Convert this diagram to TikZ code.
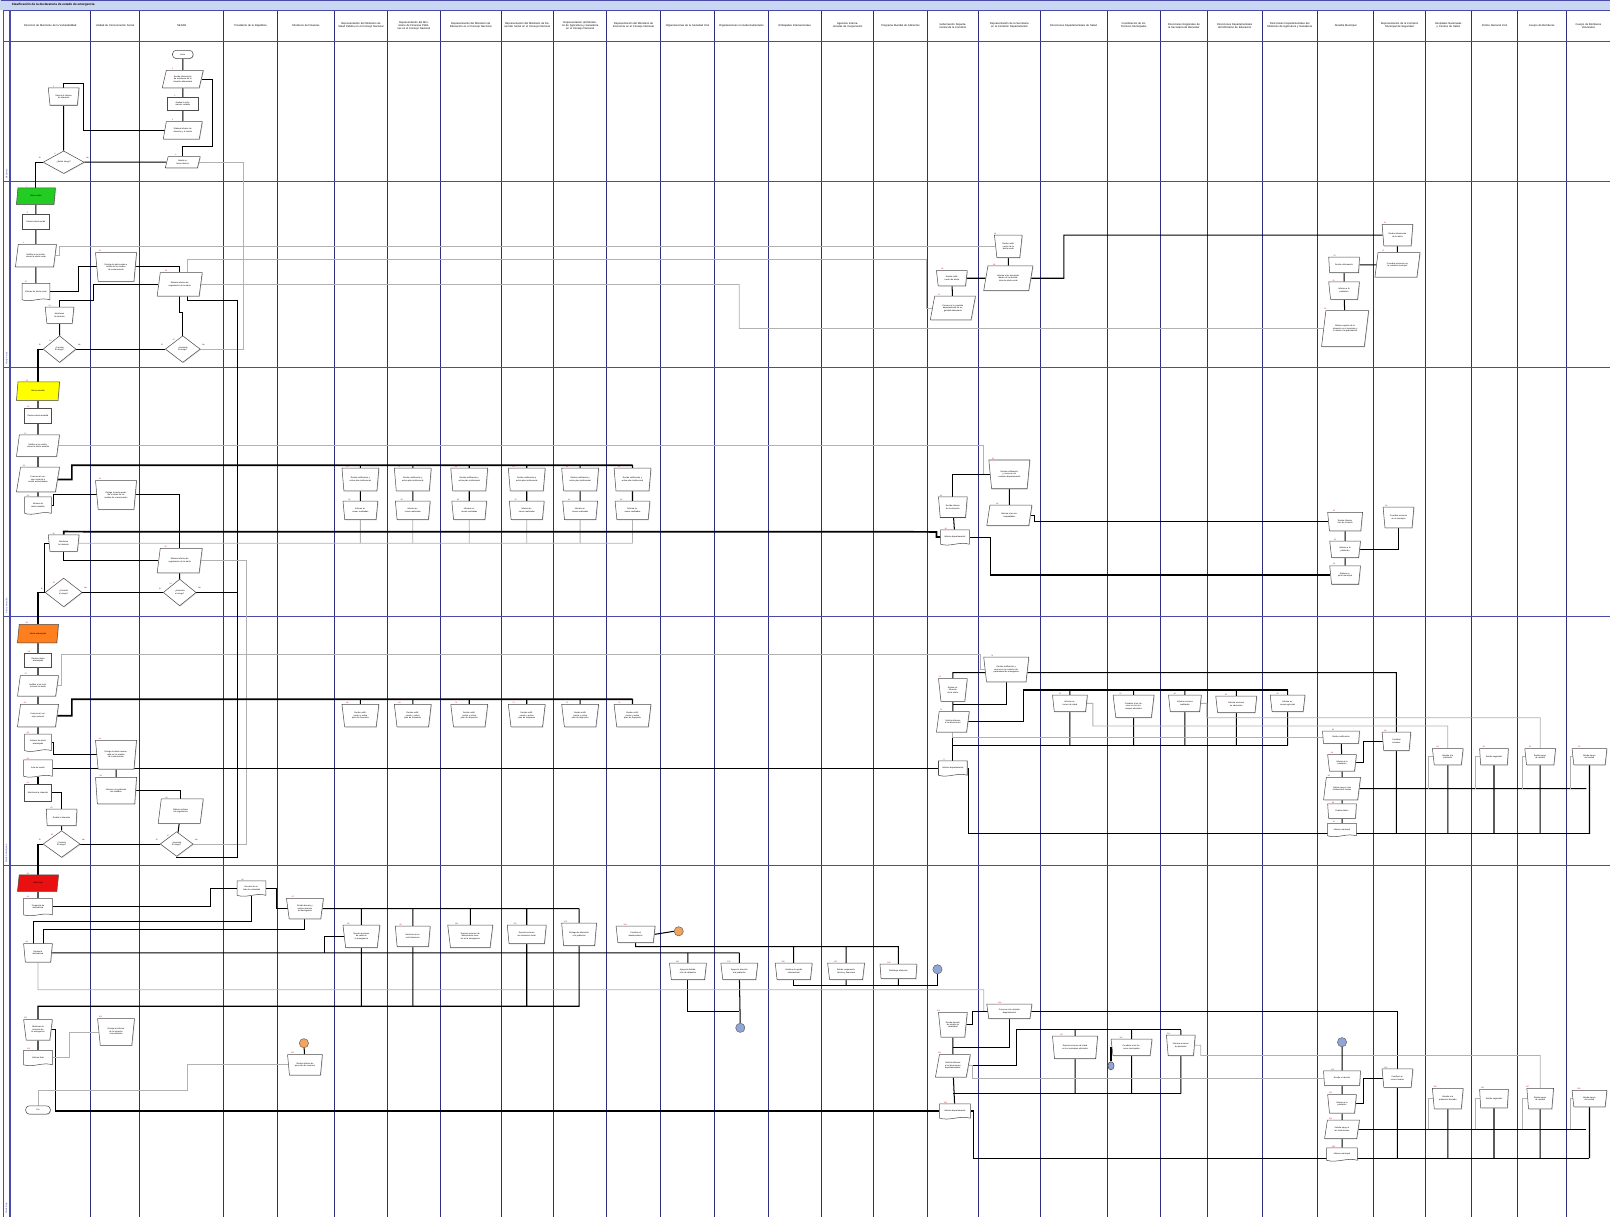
\documentclass[tikz,border=0pt]{standalone}
\usepackage{fontspec}
\setmainfont{Liberation Sans}
\usetikzlibrary{shapes.geometric,shadows,calc}
\pgfdeclarelayer{gridl}\pgfdeclarelayer{bg}
\pgfsetlayers{gridl,bg,main}
\newcounter{act}
\definecolor{gridc}{HTML}{2E2E7E}
\definecolor{rowc}{HTML}{4A4AA8}
\definecolor{ttl}{HTML}{C9D7F2}
\definecolor{sg}{HTML}{22CC22}
\definecolor{sy}{HTML}{FFFF00}
\definecolor{so}{HTML}{FF7F1E}
\definecolor{sr}{HTML}{E81010}
\definecolor{cio}{HTML}{F2A35E}
\definecolor{cib}{HTML}{8FA6D6}
\tikzset{
 shb/.style={draw=black!70, fill=white, line width=0.5pt, inner sep=0.4pt, font=\fontsize{2}{2.4}\selectfont, align=center},
 sh/.style={shb, drop shadow={shadow xshift=0.7pt, shadow yshift=-0.7pt, fill=black!30}},
 num/.style={label={[font=\fontsize{1.8}{2}\selectfont, text=red!80!black, inner sep=0.3pt]135:\stepcounter{act}\theact}},
 trz/.style 2 args={sh, num, trapezium, trapezium stretches=true, shape border rotate=180, trapezium left angle=76, trapezium right angle=76, minimum width=#1pt, minimum height=#2pt},
 prl/.style 2 args={sh, num, trapezium, trapezium stretches=true, trapezium left angle=68, trapezium right angle=112, minimum width=#1pt, minimum height=#2pt},
 rct/.style 2 args={sh, num, rectangle, minimum width=#1pt, minimum height=#2pt},
 dia/.style 2 args={sh, num, diamond, minimum width=#1pt, minimum height=#2pt},
 docn/.style 2 args={shb, num, rectangle, draw=none, fill=none, minimum width=#1pt, minimum height=#2pt},
 docl/.style={draw=black!70, fill=white, line width=0.5pt},
 term/.style 2 args={sh, rectangle, rounded corners=3.5pt, minimum width=#1pt, minimum height=#2pt},
 circ/.style={shb, circle, minimum size=9pt, fill=#1, draw=black!60},
 hdr/.style={font=\fontsize{2.6}{3.1}\selectfont, align=center, inner sep=0pt},
 yn/.style={font=\fontsize{1.8}{2}\selectfont, inner sep=0pt},
 cl/.style={line width=1pt, black},
 ck/.style={line width=1.7pt, black},
 cg/.style={line width=0.8pt, black!30},
}
\newcommand\Tz[7][]{\pgfmathsetmacro\tw{#5*0.58}\node[trz={#5}{#6},text width=\tw pt,#1] (#2) at (#3,#4) {#7};}
\newcommand\Pz[7][]{\pgfmathsetmacro\tw{#5*0.56}\node[prl={#5}{#6},text width=\tw pt,#1] (#2) at (#3,#4) {#7};}
\newcommand\Rz[7][]{\pgfmathsetmacro\tw{#5*0.8}\node[rct={#5}{#6},text width=\tw pt,#1] (#2) at (#3,#4) {#7};}
\newcommand\Dz[7][]{\pgfmathsetmacro\tw{#5*0.42}\node[dia={#5}{#6},text width=\tw pt,#1] (#2) at (#3,#4) {#7};}
\newcommand\Dc[7][]{%
 \pgfmathsetmacro\xa{#3-#5/2}\pgfmathsetmacro\xb{#3+#5/2}%
 \pgfmathsetmacro\ya{#4-#6/2}\pgfmathsetmacro\yb{#4+#6/2}\pgfmathsetmacro\cw{#5/3}%
 \filldraw[docl] (\xa,\yb) -- (\xa,\ya) -- (\xb,\ya) -- (\xb,\yb) .. controls +(-\cw,-3) and +(\cw,3) .. (\xa,\yb) -- cycle;
 \pgfmathsetmacro\tw{#5*0.82}\node[docn={#5}{#6},text width=\tw pt,#1] (#2) at (#3,#4) {#7};}
\newcommand\Cz[4]{\node[circ=#4] (#1) at (#2,#3) {};}
\newcommand\yn[1]{\node[yn] at ($(#1.west)+(-3,-4)$) {Sí};\node[yn] at ($(#1.east)+(3,-4)$) {No};}

\begin{document}
\begin{tikzpicture}[x=1pt,y=-1pt]
\useasboundingbox (0,0) rectangle (1568,1185);

% ---------- frame, title, header ----------
\begin{pgfonlayer}{gridl}
\fill[white] (0,0) rectangle (1568,1185);
\fill[ttl] (0,0) rectangle (1568,10);
\foreach \cx in {88,136,218,270,326,377,429,488,539,591,643,696,748,800,851,903,953,1013,1078,1130,1176,1229,1283,1338,1388,1433,1478,1525}
 {\draw[gridc, line width=0.7pt] (\cx,10) -- (\cx,1185);}
\foreach \ry in {10,40,177,358,600,843}
 {\draw[rowc, line width=1.1pt] (3,\ry) -- (1568,\ry);}
\draw[rowc, line width=0.5pt] (0.5,0.5) -- (1568,0.5);
\draw[rowc, line width=0.6pt] (3,10) -- (3,1185);
\draw[rowc, line width=1.6pt] (9.5,10) -- (9.5,1185);
\end{pgfonlayer}
\node[anchor=west, font=\fontsize{3}{3.5}\selectfont\bfseries] (title) at (8,5) {Clasificación de la declaratoria de estado de emergencia};
\foreach \ca/\cb/\ct in {
10/88/{Dirección de Monitoreo de la Vulnerabilidad},
88/136/{Unidad de Comunicación Social},
136/218/{SESAN},
218/270/{Presidente de la República},
270/326/{Ministerio de Finanzas},
326/377/{Representación del Ministerio de Salud Pública en el Consejo Nacional},
377/429/{Representación del Ministerio de Finanzas Públicas en el Consejo Nacional},
429/488/{Representación del Ministerio de Educación en el Consejo Nacional},
488/539/{Representación del Ministerio de Desarrollo Social en el Consejo Nacional},
539/591/{Representación del Ministerio de Agricultura y Ganadería en el Consejo Nacional},
591/643/{Representación del Ministerio de Economía en el Consejo Nacional},
643/696/{Organizaciones de la Sociedad Civil},
696/748/{Organizaciones no Gubernamentales},
748/800/{Embajadas Internacionales},
800/851/{Agencias Internacionales de Cooperación},
851/903/{Programa Mundial de Alimentos},
903/953/{Gobernación Departamental de la Comisión},
953/1013/{Representación de la Secretaría en la Comisión Departamental},
1013/1078/{Direcciones Departamentales de Salud},
1078/1130/{Coordinación de los Técnicos Municipales},
1130/1176/{Direcciones Regionales de la Secretaría de Bienestar},
1176/1229/{Direcciones Departamentales del Ministerio de Educación},
1229/1283/{Direcciones Departamentales del Ministerio de Agricultura y Ganadería},
1283/1338/{Alcaldía Municipal},
1338/1388/{Representación de la Comisión Municipal de Seguridad},
1388/1433/{Hospitales Nacionales y Centros de Salud},
1433/1478/{Policía Nacional Civil},
1478/1525/{Cuerpo de Bomberos},
1527/1567/{Cuerpo de Bomberos Voluntarios}}
{\pgfmathsetmacro\hw{\cb-\ca-6}\pgfmathsetmacro\hx{(\ca+\cb)/2}\node[hdr,text width=\hw pt] at (\hx,25) {\ct};}
\foreach \ly/\lt in {175/Monitoreo, 356/Alerta Verde, 598/Alerta Amarilla, 841/Alerta Anaranjada, 1183/Alerta Roja}
 {\node[rotate=90, anchor=west, font=\fontsize{2.2}{2.5}\selectfont, text=rowc, inner sep=0.5pt] at (6.3,\ly) {\lt};}

% ---------- ROW 1 ----------
\node[term={20}{8}] (r1s) at (178,53) {Inicio};
\Pz{r1p1}{178}{77}{40}{17}{Recibe información de monitoreo de la situación alimentaria}
\Rz{r1r1}{178}{101}{30}{13}{Analiza la información recibida}
\Pz{r1p2}{178}{127}{38}{17}{Elabora informe de situación y lo remite}
\Pz{r1p3}{178}{158}{34}{11}{Remite informe técnico}
\Tz{r1t1}{62}{94}{30}{17}{Revisa el informe de situación}
\Dz{r1d1}{62}{158}{40}{22}{¿Existe riesgo?}
\yn{r1d1}

% ---------- ROW 2 ----------
\Pz[fill=sg]{r2g}{35}{191}{38}{16}{Alerta verde}
\Rz{r2r1}{35}{216}{26}{14}{Declara alerta verde}
\Pz{r2p1}{35}{249}{40}{22}{Notifica a las instituciones la alerta verde}
\Dc{r2doc}{35}{284}{27}{16}{Informe de alerta verde}
\Tz{r2t1}{58}{307}{28}{16}{Monitorea la situación}
\Dz{r2d1}{58}{340}{32}{26}{¿Persiste el riesgo?}
\yn{r2d1}
\Tz{r2t2}{113}{260}{40}{28}{Divulga la alerta verde a través de los medios de comunicación}
\Pz{r2p2}{175}{277}{44}{23}{Elabora informe de seguimiento de la alerta}
\Dz{r2d2}{178}{340}{34}{26}{¿Aumenta el riesgo?}
\yn{r2d2}
\Tz{r2t3}{927}{271}{30}{15}{Recibe notificación de alerta}
\Pz{r2p3}{928}{300}{44}{23}{Convoca a la comisión departamental de seguridad alimentaria}
\Tz{r2t4}{982}{240}{27}{22}{Recibe notificación de la alerta verde}
\Pz{r2p4}{982}{271}{48}{24}{Informa a las municipalidades de la declaratoria de alerta verde}
\Tz{r2t5}{1361}{229}{30}{21}{Recibe información de la alerta}
\Pz{r2p5}{1361}{258}{44}{24}{Coordina acciones con la comisión municipal}
\Tz{r2t6}{1309}{258}{30}{15}{Recibe información}
\Tz{r2t7}{1309}{283}{30}{17}{Informa a la población}
\Pz{r2p6}{1310}{320}{46}{35}{Elabora reporte de la situación en el municipio y lo remite a la gobernación}

% ---------- ROW 3 ----------
\Pz[fill=sy]{r3y}{37}{381}{42}{18}{Alerta amarilla}
\Rz{r3r1}{37}{405}{26}{15}{Declara alerta amarilla}
\Pz{r3p1}{37}{434}{42}{21}{Notifica a las instituciones la alerta amarilla}
\Pz{r3p2}{37}{467}{42}{24}{Convoca al consejo nacional a sesión extraordinaria}
\Dc{r3doc}{37}{492}{26}{16}{Informe de alerta amarilla}
\Tz{r3t1}{62}{529}{30}{16}{Monitorea la situación}
\Dz{r3d1}{62}{577}{36}{28}{¿Persiste el riesgo?}
\yn{r3d1}
\Tz{r3t2}{113}{482}{40}{28}{Divulga la alerta amarilla a través de los medios de comunicación}
\Pz{r3p3}{175}{546}{44}{24}{Elabora informe de seguimiento de la alerta}
\Dz{r3d2}{175}{577}{32}{26}{¿Aumenta el riesgo?}
\yn{r3d2}
\foreach \k/\ux in {1/351,2/402,3/457,4/513,5/565,6/616}{
 \Tz{r3u\k}{\ux}{467}{36}{22}{Recibe notificación y activa plan institucional}
 \Tz{r3l\k}{\ux}{497}{34}{18}{Informa acciones realizadas}}
\Tz{r3t3}{983}{462}{40}{28}{Recibe notificación y convoca a la comisión departamental}
\Pz{r3p4}{983}{502}{44}{20}{Informa a las municipalidades}
\Tz{r3t4}{928}{494}{28}{20}{Recibe informe de la situación}
\Dc{r3doc2}{930}{523}{28}{14}{Informe departamental}
\Tz{r3t5}{1310}{508}{34}{18}{Recibe información de la alerta}
\Tz{r3t6}{1310}{535}{30}{16}{Informa a la población}
\Tz{r3t7}{1310}{560}{30}{18}{Elabora reporte municipal}
\Tz{r3t8}{1362}{504}{30}{20}{Coordina acciones en el municipio}

% ---------- ROW 4 ----------
\Pz[fill=so]{r4o}{37}{617}{40}{18}{Alerta anaranjada}
\Rz{r4r1}{37}{643}{26}{14}{Declara alerta anaranjada}
\Pz{r4p1}{37}{668}{40}{20}{Notifica a las instituciones la alerta}
\Pz{r4p2}{37}{697}{40}{22}{Convoca al consejo nacional}
\Dc{r4doc1}{37}{723}{26}{16}{Informe de alerta anaranjada}
\Dc{r4doc2}{37}{748}{28}{16}{Acta de sesión}
\Rz{r4r2}{37}{772}{26}{16}{Monitorea la situación}
\Tz{r4t1}{60}{796}{30}{16}{Evalúa la situación}
\Dz{r4d1}{60}{822}{36}{26}{¿Persiste el riesgo?}
\yn{r4d1}
\Tz{r4t2}{113}{735}{40}{28}{Divulga la alerta anaranjada en los medios de comunicación}
\Tz{r4t3}{113}{770}{40}{26}{Informa a la población las medidas}
\Pz{r4p3}{176}{790}{44}{24}{Elabora informe de seguimiento}
\Dz{r4d2}{172}{822}{32}{24}{¿Aumenta el riesgo?}
\yn{r4d2}
\foreach \k/\ux in {1/351,2/402,3/457,4/513,5/565,6/616}{
 \Tz{r4u\k}{\ux}{697}{36}{22}{Recibe notificación y activa plan de respuesta}}
\Tz{r4ct}{980}{652}{44}{24}{Recibe notificación y convoca a la comisión departamental de emergencia}
\Tz{r4gt}{928}{672}{28}{22}{Recibe notificación de la alerta}
\Pz{r4gp}{928}{703}{32}{20}{Solicita informes a las direcciones}
\Dc{r4gd}{928}{748}{28}{14}{Informe departamental}
\Tz{r4a}{1042}{685}{34}{16}{Informa acciones de salud}
\Tz{r4b}{1104}{688}{40}{22}{Coordina a los técnicos en los municipios afectados}
\Tz{r4c}{1154}{685}{32}{16}{Informa acciones realizadas}
\Tz{r4d}{1204}{686}{40}{16}{Informa acciones en educación}
\Tz{r4e}{1254}{685}{34}{16}{Informa acciones agrícolas}
\Tz{r4al1}{1306}{718}{36}{12}{Recibe notificación}
\Tz{r4al2}{1307}{743}{28}{16}{Informa a la población}
\Pz{r4al3}{1307}{768}{36}{22}{Solicita apoyo a las instituciones locales}
\Tz{r4al4}{1307}{790}{28}{14}{Evalúa daños}
\Dc{r4al5}{1307}{808}{28}{12}{Informe municipal}
\Tz{r4m1}{1360}{722}{28}{18}{Coordina acciones}
\Tz{r4h1}{1410}{737}{30}{16}{Atiende a la población}
\Tz{r4h2}{1455}{737}{28}{16}{Brinda seguridad}
\Tz{r4h3}{1500}{737}{30}{16}{Brinda apoyo de rescate}
\Tz{r4h4}{1548}{737}{34}{16}{Brinda apoyo de rescate}

% ---------- ROW 5 ----------
\Pz[fill=sr]{r5r}{37}{860}{40}{16}{Alerta roja}
\Dc{r5doc1}{37}{883}{28}{16}{Propuesta de declaratoria}
\Tz{r5t1}{37}{928}{28}{18}{Recibe la declaratoria}
\Dc{r5pr}{245}{865}{28}{14}{Decreto de estado de calamidad}
\Tz{r5t2}{297}{885}{36}{20}{Recibe decreto y asigna recursos de emergencia}
\Tz{r5a}{352}{912}{36}{22}{Ejecuta acciones de salud en la emergencia}
\Tz{r5b}{402}{912}{34}{20}{Gestiona recursos financieros}
\Tz{r5c}{458}{912}{44}{22}{Ejecuta acciones de alimentación escolar en la emergencia}
\Tz{r5d}{513}{910}{38}{18}{Ejecuta acciones de asistencia social}
\Tz{r5e}{564}{910}{34}{22}{Entrega de alimentos a la población}
\Tz{r5f}{619}{910}{38}{16}{Coordina el abastecimiento}
\Cz{r5c1}{661}{907}{cio}
\Tz{r5g}{670}{946}{36}{16}{Apoya la distribución de alimentos}
\Tz{r5h}{720}{946}{36}{16}{Apoya la atención a la población}
\Tz{r5i}{773}{946}{36}{16}{Gestiona la ayuda internacional}
\Tz{r5j}{824}{946}{36}{16}{Brinda cooperación técnica y financiera}
\Tz{r5k}{875}{946}{36}{14}{Distribuye alimentos}
\Cz{r5c2}{913}{944}{cib}
\Cz{r5c3}{721}{1001}{cib}
\Tz{r5t3}{37}{1003}{28}{20}{Monitorea la situación de la emergencia}
\Dc{r5doc2}{37}{1030}{28}{14}{Informe final}
\node[term={24}{8}] (r5end) at (37,1081) {Fin};
\Tz{r5t4}{113}{1005}{36}{26}{Divulga el informe de la situación a la población}
\Cz{r5c4}{296}{1016}{cio}
\Tz{r5t5}{297}{1037}{34}{20}{Recibe informe de ejecución de recursos}
\Tz{r5gt}{928}{998}{28}{24}{Recibe decreto de estado de calamidad}
\Pz{r5gp}{928}{1038}{34}{22}{Solicita informes a las direcciones departamentales}
\Dc{r5gd}{930}{1082}{30}{14}{Informe departamental}
\Tz{r5ct}{983}{985}{44}{14}{Convoca a la comisión departamental}
\Tz{r5a1}{1047}{1020}{44}{22}{Ejecuta acciones de salud en los municipios afectados}
\Tz{r5a2}{1102}{1020}{40}{16}{Coordina a los técnicos municipales}
\node[shb, ellipse, minimum width=6pt, minimum height=8pt, fill=cib] (r5c5) at (1082,1038) {};
\Tz{r5a3}{1150}{1018}{28}{20}{Informa acciones de bienestar}
\Cz{r5c6}{1307}{1015}{cib}
\Tz{r5al1}{1307}{1050}{36}{14}{Recibe el decreto}
\Tz{r5al2}{1307}{1075}{28}{18}{Informa a la población}
\Pz{r5al3}{1307}{1100}{34}{18}{Solicita apoyo a las instituciones}
\Dc{r5al4}{1307}{1124}{30}{12}{Informe municipal}
\Tz{r5m1}{1361}{1050}{30}{18}{Coordina acciones locales}
\Tz{r5h1}{1410}{1070}{30}{20}{Atiende a la población afectada}
\Tz{r5h2}{1455}{1070}{28}{18}{Brinda seguridad}
\Tz{r5h3}{1500}{1070}{26}{20}{Brinda apoyo de rescate}
\Tz{r5h4}{1548}{1070}{34}{16}{Brinda apoyo de rescate}

% ---------- CONNECTORS ----------
\begin{pgfonlayer}{bg}
% row 1
\draw[cl] (r1s) -- (r1p1) -- (r1r1) -- (r1p2);
\draw[cl] (r1p1.east) -| (207,143) -| (r1p3.north);
\draw[cl] (r1t1.north) -- ++(0,-4) -| (81,0 |- r1p2.west) -- (r1p2.west);
\draw[cl] (r1t1) -- (r1d1);
\draw[cl] (r1d1.east) -- (r1p3.west);
\draw[cg] (r1p3.east) -| (237,340) -- (r2d2.east);
\draw[cl] (r1d1.west) -| (r2g.north);
% row 2
\draw[cl] (r2g) -- (r2r1) -- (r2p1) -- (r2doc);
\draw[cg] (r2p1.east) -- ++(4,0) |- (r2t4.west);
\draw[cl] (r2doc.east) -| (76,0 |- r2t2.west) -- (r2t2.west);
\draw[cl] (r2t2.east) -| (r2p2.north);
\draw[cl] (r2t1.north) -- ++(0,-6) -| (91,0 |- r2p2.west) -- (r2p2.west);
\draw[cl] (r2t1) -- (r2d1);
\draw[cl] (r2p2.south) -- ++(0,16) -| (r2d2.north);
\draw[cl] ($(r2p2.south)+(8,0)$) -- ++(0,4) -| (231,577) -- (r3d2.east);
\draw[cg] (r2p2.east) -| (720,320) -- (r2p6.west);
\draw[cg] ($(r2p2.north)+(8,0)$) |- (902,253) |- (r2p3.west);
\draw[cl] (r2d1.east) -- (r2d2.west);
\draw[cl] (r2d1.west) -| (r3y.north);
\draw[cl] (r2t4) -- (r2p4);
\draw[cl] (r2t3.east) -- (r2p4.west);
\draw[cl] (r2t3) -- (r2p3);
\draw[cl] (r2p4.east) -| (1036,229) -- (r2t5.west);
\draw[cl] (r2t5) -- (r2p5);
\draw[cl] (r2t6.east) -- (r2p5.west);
\draw[cl] (r2t6) -- (r2t7) -- (r2p6);
% row 3
\draw[cl] (r3y) -- (r3r1) -- (r3p1) -- (r3p2) -- (r3doc);
\draw[cg] (r3p1.east) -| (958,436) |- (r3t3.west);
\draw[ck] (r3p2.east) -- (70,467) -- (70,453) -- (616,453);
\foreach \k/\ux in {1/351,2/402,3/457,4/513,5/565,6/616}{
 \draw[cl] (\ux,453) -- (r3u\k.north);
 \draw[cl] (r3u\k) -- (r3l\k);
 \draw[cg] (r3l\k.south) -- (\ux,529);}
\draw[cg] (r3t1.east) -- (616,529);
\draw[cl] (r3doc.east) -| (52,0 |- r3t2.west) -- (r3t2.west);
\draw[cl] (r3t2.east) -| (r3p3.north);
\draw[cl] (r3t1.south) |- (r3p3.west);
\draw[ck] (r3t1.north) -- ++(0,-3) -- (912,518) |- (r3doc2.west);
\draw[cl] (r3t1.west) -| (r3d1.west);
\draw[cl] (r3p3) -- (r3d2);
\draw[cg] (r3p3.east) -| (240,822) -- (r4d2.east);
\draw[cl] (r3d1.east) -- (r3d2.west);
\draw[cl] (r3d1.west) -| (r4o.north);
\draw[cl] (r3t3.west) -| (r3t4.north);
\draw[cl] (r3t3) -- (r3p4);
\draw[cl] (r3t4) -- (r3doc2);
\draw[cl] (r3p4.east) -- ++(4,0) |- (r3t5.west);
\draw[cl] (r3doc2.east) -| (965,0 |- r3t7.west) -- (r3t7.west);
\draw[cl] (r3t5) -- (r3t6) -- (r3t7);
\draw[cl] (r3t6.east) -| (r3t8.south);
% row 4
\draw[cl] (r4o) -- (r4r1) -- (r4p1) -- (r4p2) -- (r4doc1);
\draw[cl] (r4doc2) -- (r4r2);
\draw[cg] (r4p1.east) -- ++(4,0) |- (955,637) |- (r4ct.west);
\draw[ck] (r4p2.east) -- (70,697) -- (70,681) -- (616,681);
\foreach \k/\ux in {1/351,2/402,3/457,4/513,5/565,6/616}{\draw[cl] (\ux,681) -- (r4u\k.north);}
\draw[cl] (r4doc1.east) -| (52,0 |- r4t2.west) -- (r4t2.west);
\draw[cl] (r4t2) -- (r4t3);
\draw[cl] (r4t3.east) -| (r4p3.north);
\draw[cl] (r4doc2.east) -- (r4gd.west);
\draw[cl] (r4r2.east) -| (r4t1.north);
\draw[cl] (r4t1) -- (r4d1);
\draw[cl] (r4p3) -- (r4d2);
\draw[cl] (r4d1.east) -- (r4d2.west);
\draw[cl] (r4d2.south) |- (231,835) -- (231,577);
\draw[cl] (r4d1.west) -| (r5r.north);
\draw[cl] (r4gt.north) |- (1360,655) -- (r4m1.north);
\draw[cl] (r4ct.south) |- (928,686);
\draw[cl] (r4gt) -- (r4gp);
\draw[cl] (r4gp.east) -| (997,672) -- (1254,672);
\foreach \n/\ux in {a/1042,b/1104,c/1154,d/1204,e/1254}{
 \draw[cl] (\ux,672) -- (r4\n.north);
 \draw[cl] (r4\n.south) -- (\ux,726);}
\draw[cl] (1254,726) -- (928,726) -- (r4gd.north);
\draw[cl] (r4gp) -- (928,726);
\draw[cg] (r4gp.south) |- (r4al1.west);
\draw[cg] (r4a.east) -- ++(6,0) |- (1410,707) -- (r4h1.north);
\draw[cg] (r4c.east) -- ++(6,0) |- (1500,699) -- (r4h3.north);
\draw[cl] (r4al1) -- (r4al2) -- (r4al3) -- (r4al4) -- (r4al5);
\draw[cl] (r4al2.east) -- ++(8,0) |- (r4m1.west);
\draw[cl] (r4al3.east) -- (1545,768);
\foreach \k/\ux in {1/1391,2/1437,3/1483,4/1529}{\draw[cg] (\ux,768) |- (r4h\k.west);
 }
\draw[cl] (r4gd.east) -| (943,812) -- (1548,812);
\draw[cl] (r4m1.south) -- (1360,812);
\foreach \k/\ux in {1/1410,2/1455,3/1500,4/1548}{\draw[cl] (r4h\k.south) -- (\ux,812);}
% row 5
\draw[cl] (r5r) -- (r5doc1);
\draw[cl] (r5doc1.east) -| (205,0 |- r5pr.west) -- (r5pr.west);
\draw[cl] (r5pr.east) -- ++(10,0) |- (r5t2.west);
\draw[cl] (r5pr.south) |- (33,897) -- (33,919);
\draw[cl] (r5t2.south) |- (42,905) -- (42,919);
\draw[cl] (r5t2.east) -- (564,885);
\foreach \n/\ux in {a/352,b/402,c/458,d/513,e/564}{\draw[cl] (\ux,885) -- (r5\n.north);}
\draw[cl] (r5t1.east) -- (720,928);
\draw[cl] (r5a.west) -| (316,928);
\draw[cl] (670,928) -- (r5g.north);
\draw[cl] (720,928) -- (r5h.north);
\draw[cl] (r5f.east) -- (r5c1.west);
\draw[cl] (r5f.south) |- (875,922) -- (r5k.north);
\draw[cl] (773,922) -- (r5i.north);
\draw[cl] (824,922) -- (r5j.north);
\draw[cl] (r5i.south) |- (913,960) -- (r5c2.south);
\draw[cl] (r5j.south) -- (824,960);
\draw[cl] (r5k.south) -- (875,960);
\draw[cl] (r5g.south) |- (720,985);
\draw[cl] (r5h) -- (r5c3);
\draw[cg] (r5t1.south) -- (37,964) -- (958,964) |- (r5ct.west);
\draw[cl] (r5e.south) |- (37,980) -- (r5t3.north);
\foreach \n/\ux in {a/352,b/402,d/513}{\draw[cl] (r5\n.south) -- (\ux,980);}
\draw[cl] (r5t3) -- (r5doc2);
\draw[cl] (r5t3.east) -- ++(4,0) |- (r5gd.west);
\draw[cg] (r5doc2.east) -| (68,0 |- r5t4.west) -- (r5t4.west);
\draw[cg] (r5t5.west) -| (183,1062) -| (r5end.north);
\draw[cl] (r5c4) -- (r5t5);
\draw[cl] (r5ct.east) -| (r5m1.north);
\draw[cl] (r5m1.south) -- (1361,1128);
\draw[cl] (r5gt.east) -- ++(6,0) |- (r5ct.west);
\draw[cl] (r5ct.south) |- (928,1020);
\draw[cl] (r5gt) -- (r5gp);
\draw[cl] (r5gp.east) -| (990,1003) -- (1150,1003);
\foreach \n/\ux in {1/1047,2/1102,3/1150}{
 \draw[cl] (\ux,1003) -- (r5a\n.north);
 \draw[cl] (r5a\n.south) -- (\ux,1065);}
\draw[cl] (1150,1065) -- (928,1065);
\draw[cl] (r5gp) -- (r5gd);
\draw[cl] (r5c5.north) |- (r5a2.west);
\draw[cg] (r5gp.east) -- ++(4,0) |- (r5al1.west);
\draw[cg] (r5a3.east) -- ++(6,0) |- (1500,1028) -- (r5h3.north);
\draw[cl] (r5c6) -- (r5al1) -- (r5al2) -- (r5al3) -- (r5al4);
\draw[cl] (r5al2.east) -- ++(8,0) |- (r5m1.west);
\draw[cl] (r5al3.east) -- (1545,1100);
\foreach \k/\ux in {1/1391,2/1437,3/1483,4/1529}{\draw[cg] (\ux,1100) |- (r5h\k.west);}
\draw[cl] (r5gd.east) -| (948,1128) -- (1548,1128);
\foreach \k/\ux in {1/1410,2/1455,3/1500,4/1548}{\draw[cl] (r5h\k.south) -- (\ux,1128);}
\end{pgfonlayer}
\end{tikzpicture}
\end{document}
